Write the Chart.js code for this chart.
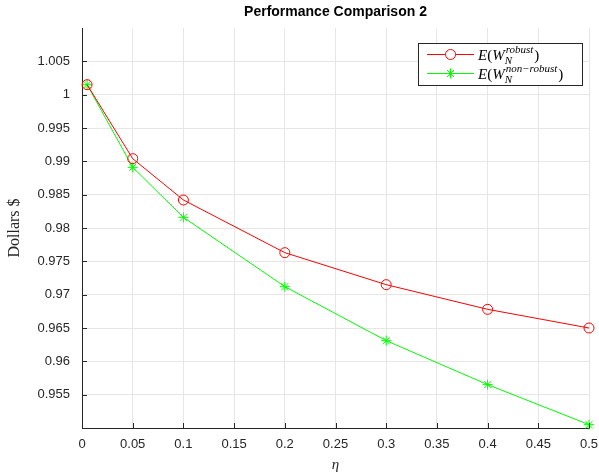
<!DOCTYPE html>
<html>
<head>
<meta charset="utf-8">
<script src="https://cdn.jsdelivr.net/npm/chart.js@4"></script>
<style>
  body { margin: 0; background: #fff; }
  #wrap { width: 599px; height: 474px; }
</style>
</head>
<body>
<div id="wrap"><canvas id="grafico"></canvas></div>
<script>
// dados
const eta = [0.005, 0.05, 0.1, 0.2, 0.3, 0.4, 0.5];
const robust = [1.0015, 0.9904, 0.9842, 0.9763, 0.9715, 0.9678, 0.9650];
const nonRobust = [1.0015, 0.9891, 0.9816, 0.9712, 0.9631, 0.9565, 0.9505];
const xTicks = [0, 0.05, 0.1, 0.15, 0.2, 0.25, 0.3, 0.35, 0.4, 0.45, 0.5];
const yTicks = [0.955, 0.96, 0.965, 0.97, 0.975, 0.98, 0.985, 0.99, 0.995, 1, 1.005];
const titulo = 'Performance Comparison 2';
const legendSup = ['robust', 'non\u2212robust'];

const axisColor = '#262626';

function pontos(ys) {
    return eta.map((x, i) => ({ x: x, y: ys[i] }));
}

function fmt(v) {
    return String(+v.toFixed(3));
}

// titulo, ticks para dentro e legenda no estilo matlab
const extras = {
    id: 'extras',
    afterDraw(chart) {
        const ctx = chart.ctx;
        const a = chart.chartArea;
        const sx = chart.scales.x;
        const sy = chart.scales.y;
        ctx.save();

        // ticks internos
        ctx.strokeStyle = axisColor;
        ctx.lineWidth = 1;
        ctx.beginPath();
        xTicks.forEach(v => {
            const px = Math.round(sx.getPixelForValue(v)) + 0.5;
            ctx.moveTo(px, a.bottom);
            ctx.lineTo(px, a.bottom - 5);
        });
        yTicks.forEach(v => {
            const py = Math.round(sy.getPixelForValue(v)) + 0.5;
            ctx.moveTo(a.left, py);
            ctx.lineTo(a.left + 5, py);
        });
        ctx.stroke();

        // titulo
        ctx.fillStyle = '#000';
        ctx.font = 'bold 14px "Liberation Sans", Arial, sans-serif';
        ctx.textAlign = 'center';
        ctx.textBaseline = 'middle';
        ctx.fillText(titulo, (a.left + a.right) / 2, 12);

        // legenda
        const bx = 418, by = 43, bw = 164, bh = 42;
        ctx.fillStyle = '#fff';
        ctx.fillRect(bx, by, bw, bh);
        ctx.strokeStyle = axisColor;
        ctx.strokeRect(bx + 0.5, by + 0.5, bw, bh);

        chart.data.datasets.forEach((ds, i) => {
            const cy = 54 + i * 19;
            ctx.strokeStyle = ds.borderColor;
            ctx.lineWidth = 1;
            ctx.beginPath();
            ctx.moveTo(427, cy + 0.5);
            ctx.lineTo(474, cy + 0.5);
            ctx.stroke();
            Chart.helpers.drawPoint(ctx, {
                pointStyle: ds.pointStyle,
                radius: ds.pointRadius,
                borderWidth: 1
            }, 450.5, cy + 0.5);

            let x = 478;
            ctx.fillStyle = '#000';
            ctx.textAlign = 'left';
            ctx.textBaseline = 'alphabetic';
            ctx.font = 'italic 15px "Liberation Serif", serif';
            ctx.fillText('E', x, cy + 6);
            x += ctx.measureText('E').width;
            ctx.font = '15px "Liberation Serif", serif';
            ctx.fillText('(', x, cy + 6);
            x += ctx.measureText('(').width;
            ctx.font = 'italic 15px "Liberation Serif", serif';
            ctx.fillText('W', x, cy + 6);
            x += ctx.measureText('W').width;
            ctx.font = 'italic 11px "Liberation Serif", serif';
            ctx.fillText('N', x, cy + 10);
            const sup = legendSup[i];
            ctx.fillText(sup, x + 1, cy - 1);
            x += ctx.measureText(sup).width + 2;
            ctx.font = '15px "Liberation Serif", serif';
            ctx.fillText(')', x, cy + 6);
        });

        ctx.restore();
    }
};

new Chart(document.getElementById('grafico'), {
    type: 'line',
    data: {
        datasets: [
            {
                label: 'E(W_N^robust)',
                data: pontos(robust),
                borderColor: '#ff0000',
                backgroundColor: 'rgba(0,0,0,0)',
                pointStyle: 'circle',
                pointRadius: 5,
                pointBorderWidth: 1,
                borderWidth: 1,
                clip: false
            },
            {
                label: 'E(W_N^non-robust)',
                data: pontos(nonRobust),
                borderColor: '#00ff00',
                backgroundColor: 'rgba(0,0,0,0)',
                pointStyle: 'star',
                pointRadius: 5,
                pointBorderWidth: 1,
                borderWidth: 1,
                clip: false
            }
        ]
    },
    options: {
        responsive: true,
        maintainAspectRatio: false,
        animation: false,
        layout: { padding: { left: 0, right: 10, top: 28, bottom: 0 } },
        plugins: {
            legend: { display: false },
            title: { display: false },
            tooltip: { enabled: false }
        },
        scales: {
            x: {
                type: 'linear',
                min: 0,
                max: 0.5,
                afterBuildTicks: s => { s.ticks = xTicks.map(v => ({ value: v })); },
                afterFit: s => {
                    s.height = 46;
                    s.paddingLeft = 0;
                    s.paddingRight = 0;
                },
                grid: { color: '#e6e6e6', drawTicks: false },
                border: { color: axisColor, width: 1 },
                ticks: {
                    padding: 9,
                    color: axisColor,
                    font: { family: '"Liberation Sans", Arial, sans-serif', size: 13 },
                    callback: v => fmt(v),
                    maxRotation: 0,
                    autoSkip: false
                },
                title: {
                    display: true,
                    text: 'η',
                    color: axisColor,
                    font: { family: '"Liberation Serif", serif', size: 15, style: 'italic' },
                    padding: { top: 1, bottom: 0 }
                }
            },
            y: {
                min: 0.95,
                max: 1.01,
                afterBuildTicks: s => { s.ticks = yTicks.map(v => ({ value: v })); },
                afterFit: s => { s.width = 82; },
                grid: { color: '#e6e6e6', drawTicks: false },
                border: { color: axisColor, width: 1 },
                ticks: {
                    padding: 12,
                    color: axisColor,
                    font: { family: '"Liberation Sans", Arial, sans-serif', size: 13 },
                    callback: v => fmt(v),
                    autoSkip: false
                },
                title: {
                    display: true,
                    text: 'Dollars $',
                    color: axisColor,
                    font: { family: '"Liberation Serif", serif', size: 16 },
                    padding: { top: 5, bottom: 0 }
                }
            }
        }
    },
    plugins: [extras]
});
</script>
</body>
</html>
